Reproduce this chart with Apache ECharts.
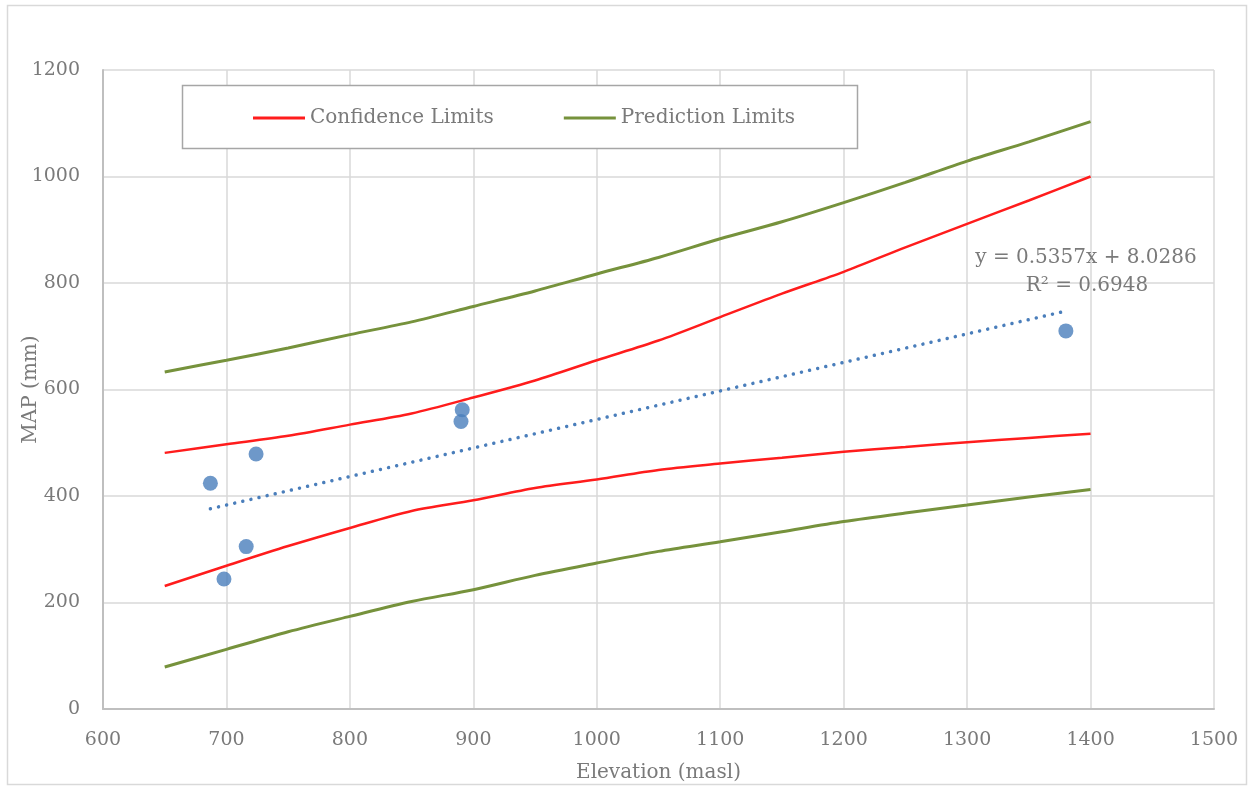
<!DOCTYPE html>
<html>
<head>
<meta charset="utf-8">
<script src="https://cdn.jsdelivr.net/npm/echarts@6/dist/echarts.min.js"></script>
<style>html,body{margin:0;padding:0;background:#fff}#c{width:1252px;height:788px}</style>
</head>
<body>
<div id="c"></div>
<script>
// ---- data ----
const limitX = [650,700,750,800,850,900,950,1000,1050,1100,1150,1200,1250,1300,1350,1400];
const confUpper = [481,497,513,534,555,585,617,655,692,736,780,821,867,911,955,1000];
const confLower = [231,269,306,340,372,392,415,431,449,461,472,483,492,501,509,517];
const predUpper = [633,655,678,703,727,756,785,817,848,883,915,951,989,1029,1065,1103];
const predLower = [79,112,145,174,202,224,251,274,296,314,333,352,368,383,398,412];
const obsX = [687,724,716,698,891,890,1380];
const obsY = [424,479,305,244,562,540,710];
const trendSlope = 0.5357;
const trendIntercept = 8.0286;
const trendLabel1 = 'y = 0.5357x + 8.0286';
const trendLabel2 = 'R² = 0.6948';
const xTicks = {min:600, max:1500, interval:100};
const yTicks = {min:0, max:1200, interval:200};

const pair = (xs, ys) => xs.map((x,i)=>[x, ys[i]]);
const tx0 = Math.min(...obsX), tx1 = Math.max(...obsX);
const trend = [[tx0, trendSlope*tx0+trendIntercept],[tx1, trendSlope*tx1+trendIntercept]];

const FONT = 'DejaVu Serif';
const TXT = '#7a7a7a';
const RED = '#ff1c1c';
const GREEN = '#76923c';
const BLUE = '#4a7ebb';

const chart = echarts.init(document.getElementById('c'), null, {renderer:'canvas'});
chart.setOption({
  animation:false,
  textStyle:{fontFamily:FONT},
  grid:{left:103, right:38, top:70, bottom:79, containLabel:false, outerBoundsMode:'none'},
  xAxis:{
    type:'value', min:xTicks.min, max:xTicks.max, interval:xTicks.interval,
    name:'Elevation (masl)', nameLocation:'middle', nameGap:54, nameMoveOverlap:false,
    nameTextStyle:{color:TXT, fontSize:20, fontFamily:FONT},
    axisLine:{show:true, onZero:false, lineStyle:{color:'#bfbfbf', width:2}},
    axisTick:{show:false},
    axisLabel:{color:TXT, fontSize:19, margin:22, fontFamily:FONT, formatter:v=>String(v)},
    splitLine:{show:true, lineStyle:{color:'#d9d9d9', width:1.5}}
  },
  yAxis:{
    type:'value', min:yTicks.min, max:yTicks.max, interval:yTicks.interval,
    name:'MAP (mm)', nameLocation:'middle', nameGap:62, nameRotate:90, nameMoveOverlap:false,
    nameTextStyle:{color:TXT, fontSize:20, fontFamily:FONT},
    axisLine:{show:true, lineStyle:{color:'#bfbfbf', width:2}},
    axisTick:{show:false},
    axisLabel:{color:TXT, fontSize:19, margin:23, fontFamily:FONT, formatter:v=>String(v)},
    splitLine:{show:true, lineStyle:{color:'#d9d9d9', width:1.5}}
  },
  legend:{
    left:253, top:108, padding:0, itemWidth:52, itemHeight:3, itemGap:70, icon:'rect',
    data:['Confidence Limits','Prediction Limits'],
    textStyle:{color:TXT, fontSize:20, fontFamily:FONT},
    z:10
  },
  graphic:[
    {type:'rect', shape:{x:7.5, y:5.5, width:1239, height:779}, style:{fill:null, stroke:'#d9d9d9', lineWidth:1.5}, z:-1, silent:true},
    {type:'rect', shape:{x:182.5, y:85.5, width:675, height:63}, style:{fill:'#fff', stroke:'#a6a6a6', lineWidth:1.5}, z:5, silent:true},
    {type:'text', x:1086, y:258, style:{text:trendLabel1, fill:TXT, font:'20px "DejaVu Serif"', textAlign:'center', textVerticalAlign:'middle'}, z:10},
    {type:'text', x:1087, y:286, style:{text:trendLabel2, fill:TXT, font:'20px "DejaVu Serif"', textAlign:'center', textVerticalAlign:'middle'}, z:10}
  ],
  series:[
    {name:'Confidence Limits', type:'line', data:pair(limitX, confUpper), symbol:'none', smooth:0.3, lineStyle:{color:RED, width:2.5}, itemStyle:{color:RED}},
    {name:'Confidence Limits', type:'line', data:pair(limitX, confLower), symbol:'none', smooth:0.3, lineStyle:{color:RED, width:2.5}, itemStyle:{color:RED}},
    {name:'Prediction Limits', type:'line', data:pair(limitX, predUpper), symbol:'none', smooth:0.3, lineStyle:{color:GREEN, width:3}, itemStyle:{color:GREEN}},
    {name:'Prediction Limits', type:'line', data:pair(limitX, predLower), symbol:'none', smooth:0.3, lineStyle:{color:GREEN, width:3}, itemStyle:{color:GREEN}},
    {name:'Trend', type:'line', data:trend, symbol:'none', lineStyle:{color:BLUE, width:3.5, type:[0.01,8.3], cap:'round'}},
    {name:'MAP', type:'scatter', data:pair(obsX, obsY), symbol:'circle', symbolSize:15, itemStyle:{color:BLUE}, z:5}
  ]
});
</script>
</body>
</html>
